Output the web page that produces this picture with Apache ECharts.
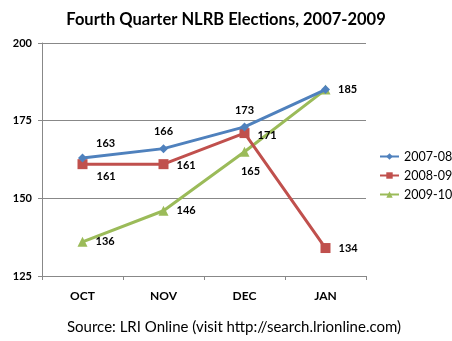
<!DOCTYPE html>
<html>
<head>
<meta charset="utf-8">
<script src="https://cdn.jsdelivr.net/npm/echarts@6/dist/echarts.min.js"></script>
<style>html,body{margin:0;padding:0;background:#fff}#c{width:452px;height:341px}</style>
</head>
<body>
<div id="c"></div>
<script>
const categories = ['OCT', 'NOV', 'DEC', 'JAN'];
const seriesNames = ['2007-08', '2008-09', '2009-10'];
const s2007 = [163, 166, 173, 185];
const s2008 = [161, 161, 171, 134];
const s2009 = [136, 146, 165, 185];
const yTicks = [125, 150, 175, 200];
const titleText = 'Fourth Quarter NLRB Elections, 2007-2009';
const sourceText = 'Source: LRI Online (visit http://search.lrionline.com)';

const FONT = 'Lato, "Open Sans", sans-serif';
const colors = ['#4F81BD', '#C0504D', '#9BBB59'];
const symbols = ['diamond', 'rect', 'triangle'];
const symbolSizes = [9, 10, 10];

// label placements per series per point
const labelCfg = [
  [{position:'right', offset:[4,-14]}, {position:'top', offset:[0,-2]}, {position:'top', offset:[0,-1]}, {position:'right', offset:[3,0]}],
  [{position:'right', offset:[4,12]}, {position:'right', offset:[3,1]}, {position:'right', offset:[3,2]}, {position:'right', offset:[3,0]}],
  [{position:'right', offset:[3,0]}, {position:'right', offset:[3,0]}, {position:'bottom', offset:[6,4]}, {show:false}]
];

const allData = [s2007, s2008, s2009];
const series = allData.map((arr, si) => ({
  name: seriesNames[si],
  type: 'line',
  data: arr.map((v, i) => ({value: v, label: Object.assign({show: true}, labelCfg[si][i])})),
  symbol: symbols[si],
  symbolSize: symbolSizes[si],
  lineStyle: {color: colors[si], width: 3},
  itemStyle: {color: colors[si]},
  label: {color: '#000', fontFamily: FONT, fontWeight: 'bold', fontSize: 11},
  emphasis: {disabled: true},
  z: 3 - si
}));

const chart = echarts.init(document.getElementById('c'), null, {renderer: 'canvas'});
chart.setOption({
  animation: false,
  backgroundColor: '#fff',
  title: [
    {text: titleText, left: 'center', top: 6,
     textStyle: {fontFamily: FONT, fontWeight: 'bold', fontSize: 16.5, color: '#000'}},
    {text: sourceText, left: 62, top: 315,
     textStyle: {fontFamily: FONT, fontWeight: 'normal', fontSize: 15, color: '#000'}}
  ],
  legend: {
    orient: 'vertical', left: 374, top: 145,
    itemWidth: 19, itemHeight: 8, itemGap: 6,
    textStyle: {fontFamily: FONT, fontSize: 12.5, color: '#000'},
    data: seriesNames
  },
  grid: {left: 42, right: 86, top: 43, bottom: 65, containLabel: false},
  xAxis: {
    type: 'category', data: categories, boundaryGap: true,
    axisLine: {lineStyle: {color: '#888', width: 1}},
    axisTick: {show: true, length: 4, lineStyle: {color: '#888'}},
    axisLabel: {fontFamily: FONT, fontWeight: 'bold', fontSize: 12, color: '#000', margin: 14}
  },
  yAxis: {
    type: 'value', min: yTicks[0], max: yTicks[yTicks.length-1], interval: 25,
    axisLine: {show: true, lineStyle: {color: '#888', width: 1}},
    axisTick: {show: true, length: 4, lineStyle: {color: '#888'}},
    splitLine: {lineStyle: {color: '#888', width: 1}},
    axisLabel: {fontFamily: FONT, fontWeight: 'bold', fontSize: 11, color: '#000', margin: 10}
  },
  series: series
});
</script>
</body>
</html>
